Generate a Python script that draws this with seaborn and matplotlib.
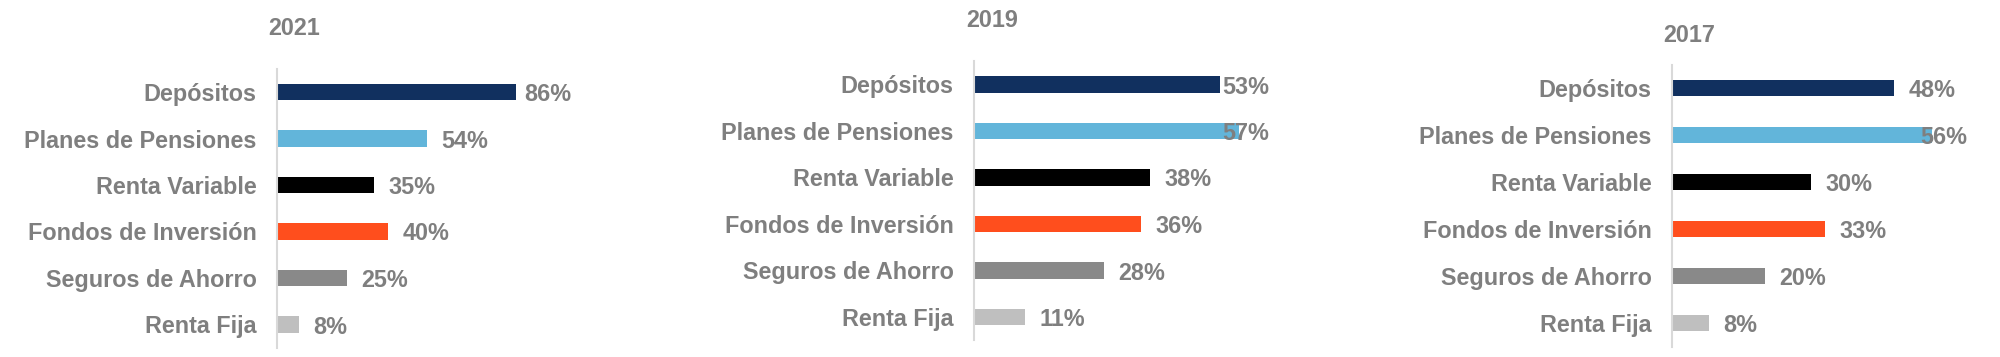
import matplotlib
matplotlib.use("Agg")
import matplotlib.pyplot as plt
import matplotlib.transforms as mtransforms
import seaborn as sns

# data
categories = ["Depósitos", "Planes de Pensiones", "Renta Variable",
              "Fondos de Inversión", "Seguros de Ahorro", "Renta Fija"]
years = ["2021", "2019", "2017"]
pct_2021 = [86, 54, 35, 40, 25, 8]
pct_2019 = [53, 57, 38, 36, 28, 11]
pct_2017 = [48, 56, 30, 33, 20, 8]
values = {"2021": pct_2021, "2019": pct_2019, "2017": pct_2017}

bar_colors = ["#11305F", "#62B5DA", "#000000", "#FF4E1D", "#898989", "#BFBFBF"]
text_grey = "#7F7F7F"

sns.set_theme(style="white")
plt.rcParams["font.family"] = ["Liberation Sans", "DejaVu Sans"]
plt.rcParams["font.weight"] = "bold"

W, H = 2000, 357
fig = plt.figure(figsize=(W / 100, H / 100), dpi=100)

# panel layout in pixels: left, top, width, height, xmax, title centre (x, y)
layout = {
    "2021": dict(left=277, top=68.75, width=294.7, height=279, xmax=106, title=(294, 25.7)),
    "2019": dict(left=974, top=61.25, width=295.6, height=279, xmax=63.7, title=(992, 18)),
    "2017": dict(left=1671.7, top=64.5, width=295.6, height=282, xmax=63.7, title=(1689, 32.8)),
}

fsize = 16.8
pad_px = 14.5

labels = []
for yr in years:
    lay = layout[yr]
    ax = fig.add_axes([lay["left"] / W, 1 - (lay["top"] + lay["height"]) / H,
                       lay["width"] / W, lay["height"] / H])
    ax.patch.set_alpha(0)
    sns.barplot(x=values[yr], y=categories, hue=categories, palette=bar_colors,
                saturation=1, width=0.35, linewidth=0, legend=False,
                orient="h", ax=ax)
    ax.set_xlim(0, lay["xmax"])
    ax.set_ylim(5.5, -0.5)
    ax.set_xlabel("")
    ax.set_ylabel("")
    ax.set_xticks([])
    ax.tick_params(axis="y", length=0, pad=14.5, labelsize=fsize, labelcolor=text_grey)
    for t in ax.get_yticklabels():
        t.set_fontweight("bold")
    for s in ["top", "right", "bottom"]:
        ax.spines[s].set_visible(False)
    ax.spines["left"].set_color("#D9D9D9")
    ax.spines["left"].set_linewidth(1.5)

    offset = mtransforms.ScaledTranslation(pad_px / 100, 0, fig.dpi_scale_trans)
    for i, v in enumerate(values[yr]):
        t = ax.text(v, i, f"{v}%", transform=ax.transData + offset,
                    ha="left", va="center_baseline", fontsize=fsize,
                    fontweight="bold", color=text_grey)
        labels.append((ax, t, i))

    tx, ty = lay["title"]
    fig.text(tx / W, 1 - ty / H, yr, ha="center", va="center_baseline",
             fontsize=fsize, fontweight="bold", color=text_grey)

# keep the value labels inside the plot area, like the original chart does
fig.canvas.draw()
renderer = fig.canvas.get_renderer()
for ax, t, i in labels:
    bb = t.get_window_extent(renderer)
    right = ax.get_window_extent(renderer).x1
    if bb.x1 > right:
        x_disp = right - bb.width - pad_px
        x_data = ax.transData.inverted().transform((x_disp, 0))[0]
        t.set_x(x_data)

fig.savefig("out.png", dpi=100)
